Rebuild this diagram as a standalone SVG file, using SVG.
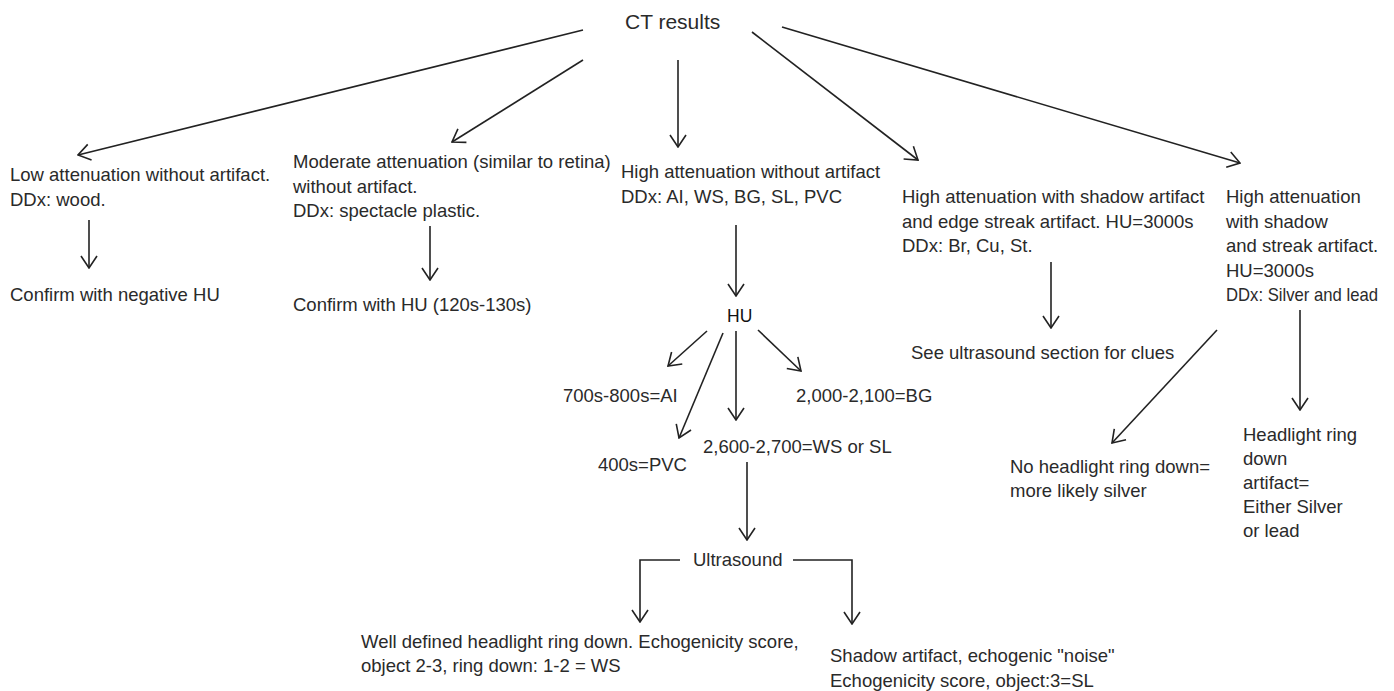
<svg xmlns="http://www.w3.org/2000/svg" width="1394" height="691" viewBox="0 0 1394 691">
<defs>
<style>
text{font-family:"Liberation Sans",Arial,sans-serif;font-size:18.5px;fill:#2a2a2a}
.big{font-size:21px}
.hu{font-size:17.5px;fill:#111}
.c line,.c path{stroke:#222;stroke-width:1.6;fill:none;marker-end:url(#a)}
</style>
<marker id="a" viewBox="0 0 14 18" refX="13" refY="9" markerWidth="14" markerHeight="18" markerUnits="userSpaceOnUse" orient="auto">
<path d="M1,1 L13,9 L1,17" fill="none" stroke="#222" stroke-width="1.6"/>
</marker>
</defs>
<rect width="1394" height="691" fill="#fff"/>
<g class="c" id="connectors">
<line x1="583" y1="30" x2="78" y2="155"/>
<line x1="583" y1="60" x2="452" y2="142"/>
<line x1="678" y1="60" x2="678" y2="147"/>
<line x1="752" y1="32" x2="918" y2="160"/>
<line x1="782" y1="27" x2="1240" y2="163"/>
<line x1="89" y1="220" x2="89" y2="268"/>
<line x1="430" y1="226" x2="430" y2="280"/>
<line x1="736" y1="225" x2="736" y2="296"/>
<line x1="707" y1="331" x2="668" y2="366"/>
<line x1="723" y1="333" x2="679" y2="438"/>
<line x1="736" y1="331" x2="736" y2="420"/>
<line x1="758" y1="330" x2="801" y2="371"/>
<line x1="747" y1="462" x2="747" y2="540"/>
<path d="M680,560 H640 V622"/>
<path d="M793,560 H852 V624"/>
<line x1="1051" y1="262" x2="1051" y2="328"/>
<line x1="1217" y1="330" x2="1112" y2="443"/>
<line x1="1300" y1="310" x2="1300" y2="410"/>
</g>
<g id="ct"><text class="big" x="625" y="29">CT results</text></g>
<g id="low"><text x="10" y="181">Low attenuation without artifact.</text><text x="10" y="206">DDx: wood.</text></g>
<g id="low-confirm"><text x="10" y="301">Confirm with negative HU</text></g>
<g id="moderate"><text x="293" y="168">Moderate attenuation (similar to retina)</text><text x="293" y="193">without artifact.</text><text x="293" y="217">DDx: spectacle plastic.</text></g>
<g id="mod-confirm"><text x="293" y="311">Confirm with HU (120s-130s)</text></g>
<g id="high"><text x="621" y="178">High attenuation without artifact</text><text x="621" y="203">DDx: AI, WS, BG, SL, PVC</text></g>
<g id="hu"><text class="hu" x="727" y="322">HU</text></g>
<g id="al"><text x="563" y="402">700s-800s=AI</text></g>
<g id="pvc"><text x="598" y="471">400s=PVC</text></g>
<g id="bg"><text x="796" y="402">2,000-2,100=BG</text></g>
<g id="wssl"><text x="703" y="453">2,600-2,700=WS or SL</text></g>
<g id="us"><text x="693" y="566">Ultrasound</text></g>
<g id="ws"><text x="361" y="648">Well defined headlight ring down. Echogenicity score,</text><text x="361" y="672">object 2-3, ring down: 1-2 = WS</text></g>
<g id="sl"><text x="830" y="662">Shadow artifact, echogenic "noise"</text><text x="830" y="687">Echogenicity score, object:3=SL</text></g>
<g id="shadow-edge"><text x="902" y="203">High attenuation with shadow artifact</text><text x="902" y="228">and edge streak artifact. HU=3000s</text><text x="902" y="252">DDx: Br, Cu, St.</text></g>
<g id="see-us"><text x="911" y="359">See ultrasound section for clues</text></g>
<g id="shadow-streak"><text x="1226" y="203">High attenuation</text><text x="1226" y="228">with shadow</text><text x="1226" y="252">and streak artifact.</text><text x="1226" y="277">HU=3000s</text><text x="1226" y="301" textLength="152" lengthAdjust="spacingAndGlyphs">DDx: Silver and lead</text></g>
<g id="silver"><text x="1010" y="473">No headlight ring down=</text><text x="1010" y="497">more likely silver</text></g>
<g id="either"><text x="1243" y="441">Headlight ring</text><text x="1243" y="465">down</text><text x="1243" y="489">artifact=</text><text x="1243" y="513">Either Silver</text><text x="1243" y="537">or lead</text></g>
</svg>
